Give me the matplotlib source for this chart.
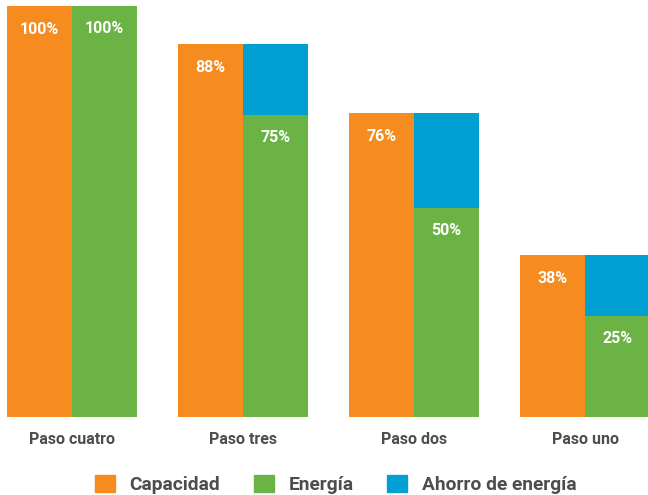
import matplotlib
matplotlib.use("Agg")
import matplotlib.pyplot as plt
from matplotlib.patches import Patch
import numpy as np

# Data (bar heights as drawn, label texts as printed)
categories = ["Paso cuatro", "Paso tres", "Paso dos", "Paso uno"]
capacidad = [100, 90.7, 74.0, 39.4]
energia = [100, 73.5, 50.9, 24.6]
capacidad_labels = ["100%", "88%", "76%", "38%"]
energia_labels = ["100%", "75%", "50%", "25%"]
series_names = ["Capacidad", "Energía", "Ahorro de energía"]

ahorro = [c - e for c, e in zip(capacidad, energia)]

C_ORANGE = "#F68B1F"
C_GREEN = "#6AB344"
C_BLUE = "#00A0D2"
C_TEXT = "#4D4D4D"

plt.rcParams["font.family"] = ["Roboto", "DejaVu Sans"]

W, H = 648, 495
fig = plt.figure(figsize=(W / 100, H / 100), dpi=100)
ax = fig.add_axes([0, 78 / H, 1, 411 / H])

x = np.arange(len(categories))
w = 0.383
ax.bar(x - w / 2, capacidad, w, color=C_ORANGE, linewidth=0)
ax.bar(x + w / 2, energia, w, color=C_GREEN, linewidth=0)
ax.bar(x + w / 2, ahorro, w, bottom=energia, color=C_BLUE, linewidth=0)

for xi, v, lab in zip(x, capacidad, capacidad_labels):
    ax.annotate(lab, (xi - w / 2, v), xytext=(0, -17), textcoords="offset points",
                ha="center", va="center", color="white", fontsize=11.5, fontweight="bold")
for xi, v, lab in zip(x, energia, energia_labels):
    ax.annotate(lab, (xi + w / 2, v), xytext=(0, -16), textcoords="offset points",
                ha="center", va="center", color="white", fontsize=11.5, fontweight="bold")

ax.set_xlim(-72 / 171, (648 - 72) / 171)
ax.set_ylim(0, 100)
ax.set_xticks(x)
ax.set_xticklabels(categories, fontsize=11.5, fontweight="bold", color=C_TEXT)
ax.tick_params(axis="x", length=0, pad=11)
ax.set_yticks([])
for s in ax.spines.values():
    s.set_visible(False)

fs = 13.8
px = fs * 100 / 72
handles = [Patch(color=C_ORANGE), Patch(color=C_GREEN), Patch(color=C_BLUE)]
leg = fig.legend(handles, series_names, loc="center", bbox_to_anchor=(335.5 / W, 10.5 / H),
                 ncol=3, frameon=False, handlelength=20 / px, handleheight=19 / px,
                 handletextpad=15 / px, columnspacing=33 / px, borderpad=0, borderaxespad=0,
                 prop={"weight": "bold", "size": fs})
for t in leg.get_texts():
    t.set_color(C_TEXT)

fig.savefig("out.png", dpi=100)
